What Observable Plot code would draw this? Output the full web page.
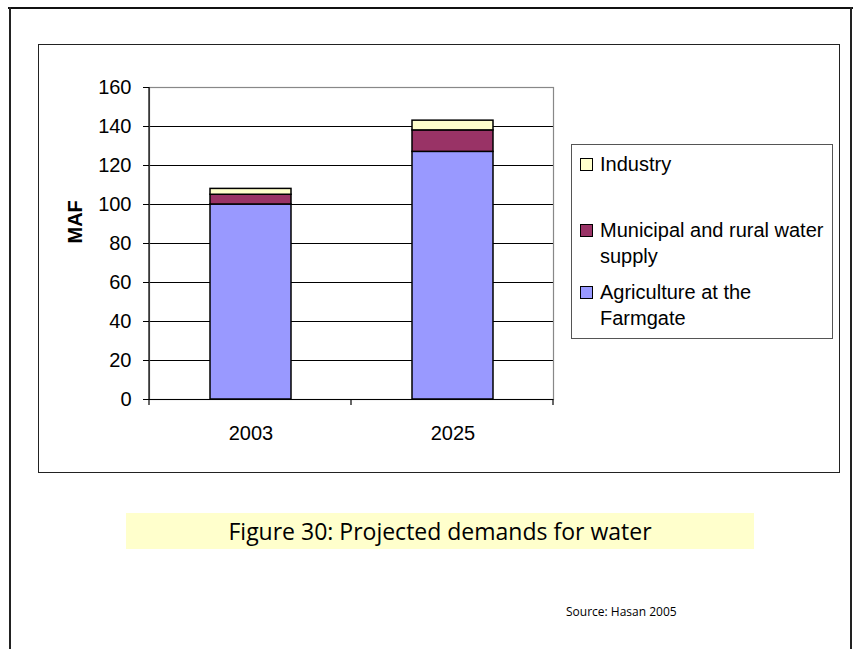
<!DOCTYPE html>
<html>
<head>
<meta charset="utf-8">
<script src="https://cdn.jsdelivr.net/npm/d3@7"></script>
<script src="https://cdn.jsdelivr.net/npm/@observablehq/plot@0.6"></script>
<style>
  html, body { margin: 0; padding: 0; background: #fff; overflow: hidden; }
  #page { position: relative; width: 853px; height: 649px; font-family: "Liberation Sans", Arial, sans-serif; }
  .abs { position: absolute; }
  #frameTop { left: 8px; top: 7px; width: 845px; height: 0; border-top: 2.5px solid #111; }
  #frameLeft { left: 9px; top: 7px; width: 0; height: 642px; border-left: 2px solid #222; }
  #frameRight { left: 850px; top: 7px; width: 0; height: 642px; border-left: 2px solid #222; }
  #chartBox { left: 38px; top: 44px; width: 800px; height: 427px; border: 1.5px solid #222; }
  #plot { left: 40px; top: 46px; }
  #legend { left: 571px; top: 144px; width: 260px; height: 193px; border: 1.2px solid #555; background: #fff; }
  .item { position: absolute; left: 8px; font-family: "Liberation Sans", Arial, sans-serif; font-size: 20px; line-height: 26px; color: #000; white-space: nowrap; }
  .sw { position: absolute; left: 0; width: 11px; height: 11px; border: 1px solid #000; }
  .lbl { position: absolute; left: 20px; top: 0; }
  #caption { left: 126px; top: 513px; width: 628px; height: 36px; background: #ffffcc; text-align: center;
             font-family: "Open Sans", "DejaVu Sans", sans-serif; font-size: 23px; line-height: 36px; color: #000; }
  #source { left: 566px; top: 603px; font-family: "Open Sans", "DejaVu Sans", sans-serif; font-size: 12px; color: #000; }
</style>
</head>
<body>
<div id="page">
  <div id="frameTop" class="abs"></div>
  <div id="frameLeft" class="abs"></div>
  <div id="frameRight" class="abs"></div>
  <div id="chartBox" class="abs"></div>
  <div id="plot" class="abs"></div>
  <div id="legend" class="abs"></div>
  <div id="caption" class="abs">Figure 30: Projected demands for water</div>
  <div id="source" class="abs">Source: Hasan 2005</div>
</div>
<script>
// ---- Data ----
const years = ["2003", "2025"];
const seriesNames = ["Agriculture at the Farmgate", "Municipal and rural water supply", "Industry"];
const agriculture = [100, 127];
const municipal = [5, 11];
const industry = [3, 5];
const seriesColors = ["#9999ff", "#993366", "#ffffcc"];
const yTicks = [0, 20, 40, 60, 80, 100, 120, 140, 160];
const yLabel = "MAF";
const legendOrder = ["Industry", "Municipal and rural water supply", "Agriculture at the Farmgate"];
const legendLines = {
  "Industry": ["Industry"],
  "Municipal and rural water supply": ["Municipal and rural water", "supply"],
  "Agriculture at the Farmgate": ["Agriculture at the", "Farmgate"]
};

const seriesValues = [agriculture, municipal, industry];
const rows = [];
years.forEach((yr, i) => {
  seriesNames.forEach((s, j) => rows.push({year: yr, series: s, value: seriesValues[j][i]}));
});

// axis line (left) and category-boundary ticks (bottom)
function axisLines(index, scales, values, dims) {
  const l = dims.marginLeft, t = dims.marginTop;
  const r = dims.width - dims.marginRight, b = dims.height - dims.marginBottom;
  const g = d3.create("svg:g").attr("stroke", "#000").attr("stroke-width", 1.2);
  g.append("line").attr("x1", l).attr("x2", l).attr("y1", t).attr("y2", b);
  const n = years.length;
  for (let i = 0; i <= n; i++) {
    const x = l + i * (r - l) / n;
    g.append("line").attr("x1", x).attr("x2", x).attr("y1", b).attr("y2", b + 6);
  }
  return g.node();
}

const chart = Plot.plot({
  width: 798,
  height: 425,
  marginLeft: 109,
  marginTop: 41,
  marginRight: 285,
  marginBottom: 72,
  style: {fontSize: "20px", fontFamily: "'Liberation Sans', Arial, sans-serif", color: "#000", background: "transparent"},
  x: {domain: years, paddingInner: 0.6, paddingOuter: 0.3, label: null},
  y: {domain: [0, 160], label: null},
  color: {domain: seriesNames, range: seriesColors},
  marks: [
    Plot.gridY(yTicks.filter(d => d > 0 && d < 160), {stroke: "#000", strokeOpacity: 1, strokeWidth: 1}),
    Plot.frame({stroke: "#888", strokeWidth: 1.2}),
    Plot.barY(rows, {x: "year", y: "value", fill: "series", order: seriesNames, stroke: "#000", strokeWidth: 1.5}),
    Plot.ruleY([0], {stroke: "#000", strokeWidth: 1.2}),
    axisLines,
    Plot.axisY({ticks: yTicks, tickSize: 6, tickPadding: 12, label: null, tickFormat: d => String(d)}),
    Plot.axisX({tickSize: 0, tickPadding: 26, label: null}),
    Plot.text([yLabel], {frameAnchor: "left", rotate: -90, dx: -74, fontWeight: "bold", fontSize: 20, fill: "#000"})
  ]
});
document.getElementById("plot").appendChild(chart);

// ---- Legend ----
const legend = document.getElementById("legend");
const itemTops = {"Industry": 6, "Municipal and rural water supply": 72, "Agriculture at the Farmgate": 134};
legendOrder.forEach(name => {
  const idx = seriesNames.indexOf(name);
  const item = document.createElement("div");
  item.className = "item";
  item.style.top = itemTops[name] + "px";
  const sw = document.createElement("div");
  sw.className = "sw";
  sw.style.top = "7px";
  sw.style.background = seriesColors[idx];
  const lbl = document.createElement("div");
  lbl.className = "lbl";
  lbl.innerHTML = legendLines[name].join("<br>");
  item.appendChild(sw);
  item.appendChild(lbl);
  legend.appendChild(item);
});
</script>
</body>
</html>
